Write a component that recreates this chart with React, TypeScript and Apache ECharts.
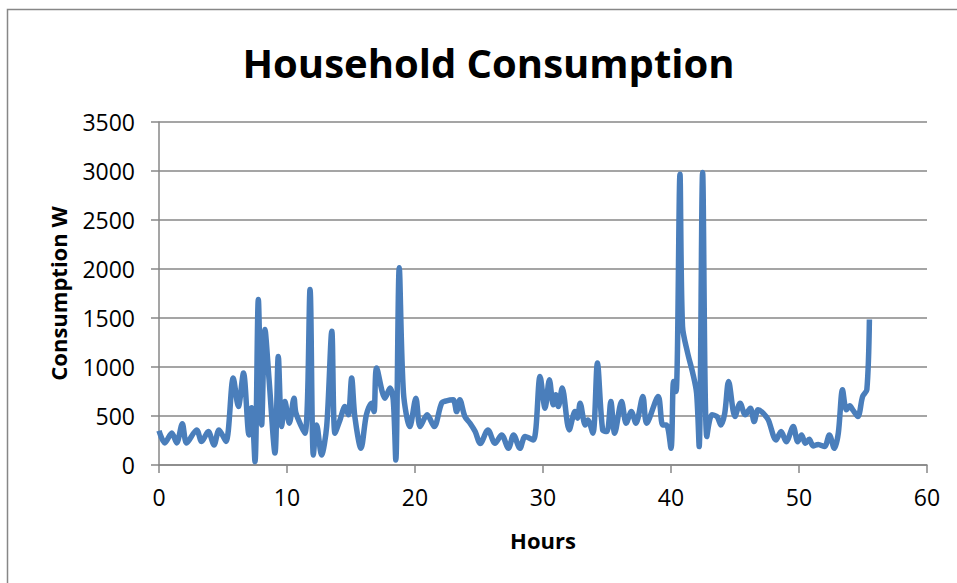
import React, { useEffect, useRef } from "react";
import * as echarts from "echarts";

const TITLE = "Household Consumption";
const X_NAME = "Hours";
const Y_NAME = "Consumption W";

const hours = [
  0.0, 0.45, 1.0, 1.38, 1.82, 2.16, 2.94, 3.33, 3.85, 4.3, 4.69, 5.23, 5.8, 6.2, 6.6, 7.03, 7.24, 7.5, 7.76,
  8.02, 8.28, 8.6, 9.06, 9.32, 9.58, 9.84, 10.18, 10.55, 10.7, 11.4, 11.8, 12.06, 12.32, 12.7, 13.1, 13.5,
  13.75, 14.14, 14.53, 14.79, 15.05, 15.3, 15.78, 16.2, 16.6, 16.8, 17.0, 17.66, 18.05, 18.3, 18.5, 18.77,
  19.1, 19.6, 20.07, 20.4, 20.95, 21.5, 22.08, 22.46, 22.98, 23.25, 23.5, 23.9, 24.3, 24.7, 25.1, 25.7,
  26.25, 26.77, 27.3, 27.7, 28.2, 28.6, 29.25, 29.77, 30.16, 30.5, 30.8, 31.0, 31.2, 31.5, 32.05, 32.5,
  32.7, 32.9, 33.3, 33.5, 33.9, 34.25, 34.66, 35.0, 35.3, 35.6, 36.14, 36.5, 36.9, 37.26, 37.8, 38.1, 39.0,
  39.35, 39.65, 40.0, 40.2, 40.4, 40.7, 40.9, 41.3, 41.7, 42.0, 42.2, 42.47, 42.8, 43.2, 43.6, 43.9, 44.2,
  44.5, 45.0, 45.4, 45.8, 46.2, 46.5, 46.8, 47.2, 47.6, 48.2, 48.6, 49.0, 49.55, 49.9, 50.2, 50.5, 50.8,
  51.1, 51.5, 52.0, 52.37, 52.76, 53.07, 53.4, 53.7, 53.97, 54.2, 54.6, 54.97, 55.3, 55.5,
];

const watts = [
  350, 225, 327, 225, 420, 225, 358, 240, 341, 205, 358, 240, 887, 597, 938, 307, 583, 34, 1689,
  409, 1382, 870, 123, 1108, 392, 648, 426, 682, 529, 324, 1791, 102, 409, 102, 392, 1364,
  324, 460, 597, 512, 887, 494, 170, 512, 631, 545, 990, 682, 785, 665, 51, 2013,
  733, 392, 682, 392, 512, 392, 631, 655, 665, 545, 665, 494, 426, 341, 220, 358,
  222, 307, 170, 307, 170, 290, 256, 904, 580, 870, 614, 716, 597, 785, 358, 545,
  478, 631, 409, 460, 324, 1040, 358, 341, 648, 324, 648, 426, 545, 426, 699, 426, 699,
  409, 409, 170, 853, 750, 2968, 1415, 1143, 938, 733, 188, 2985, 290, 512, 494, 409, 529,
  853, 494, 631, 512, 580, 443, 563, 529, 460, 256, 341, 238, 392, 238, 307, 222, 263,
  194, 210, 188, 307, 170, 324, 768, 563, 604, 563, 494, 699, 768, 1484,
];

const X_MIN = 0;
const X_MAX = 60;
const X_STEP = 10;
const Y_MIN = 0;
const Y_MAX = 3500;
const Y_STEP = 500;

const FONT = "'Open Sans', 'Noto Sans', sans-serif";
const GRAY = "#878787";

export default function App() {
  const ref = useRef<HTMLDivElement>(null);

  useEffect(() => {
    if (!ref.current) return;
    const chart = echarts.init(ref.current, undefined, { renderer: "svg" });
    const data = hours.map((h, i) => [h, watts[i]]);
    chart.setOption({
      animation: false,
      backgroundColor: "#ffffff",
      textStyle: { fontFamily: FONT },
      graphic: [
        {
          type: "rect",
          shape: { x: 7.5, y: 9.5, width: 980, height: 620 },
          style: { fill: "none", stroke: GRAY, lineWidth: 1.5 },
          silent: true,
        },
        {
          type: "text",
          x: 488.5,
          y: 62,
          style: {
            text: TITLE,
            fontFamily: FONT,
            fontWeight: "bold",
            fontSize: 40,
            fill: "#000000",
            textAlign: "center",
            textVerticalAlign: "middle",
          },
        },
      ],
      grid: { left: 159, right: 30, top: 122, bottom: 118, containLabel: false },
      xAxis: {
        type: "value",
        min: X_MIN,
        max: X_MAX,
        interval: X_STEP,
        name: X_NAME,
        nameLocation: "middle",
        nameGap: 64,
        nameTextStyle: { fontFamily: FONT, fontWeight: "bold", fontSize: 22, color: "#000" },
        axisLine: { show: true, lineStyle: { color: GRAY, width: 1.5 } },
        axisTick: { show: true, length: 8, lineStyle: { color: GRAY, width: 1.5 } },
        axisLabel: { fontFamily: FONT, fontSize: 23, color: "#000", margin: 20, formatter: (v: number) => String(v) },
        splitLine: { show: false },
      },
      yAxis: {
        type: "value",
        min: Y_MIN,
        max: Y_MAX,
        interval: Y_STEP,
        name: Y_NAME,
        nameLocation: "middle",
        nameGap: 90,
        nameTextStyle: { fontFamily: FONT, fontWeight: "bold", fontSize: 22, color: "#000" },
        axisLine: { show: true, lineStyle: { color: GRAY, width: 1.5 } },
        axisTick: { show: true, length: 8, lineStyle: { color: GRAY, width: 1.5 } },
        axisLabel: { fontFamily: FONT, fontSize: 23, color: "#000", margin: 24, formatter: (v: number) => String(v) },
        splitLine: { show: true, lineStyle: { color: GRAY, width: 1.5 } },
      },
      series: [
        {
          type: "line",
          data,
          smooth: 0.3,
          showSymbol: false,
          symbol: "none",
          lineStyle: { color: "#4A7EBB", width: 5.5 },
          itemStyle: { color: "#4A7EBB" },
        },
      ],
    });
    return () => chart.dispose();
  }, []);

  return (
    <div
      ref={ref}
      style={{ position: "absolute", left: 0, top: 0, width: 957, height: 583, background: "#fff" }}
    />
  );
}
